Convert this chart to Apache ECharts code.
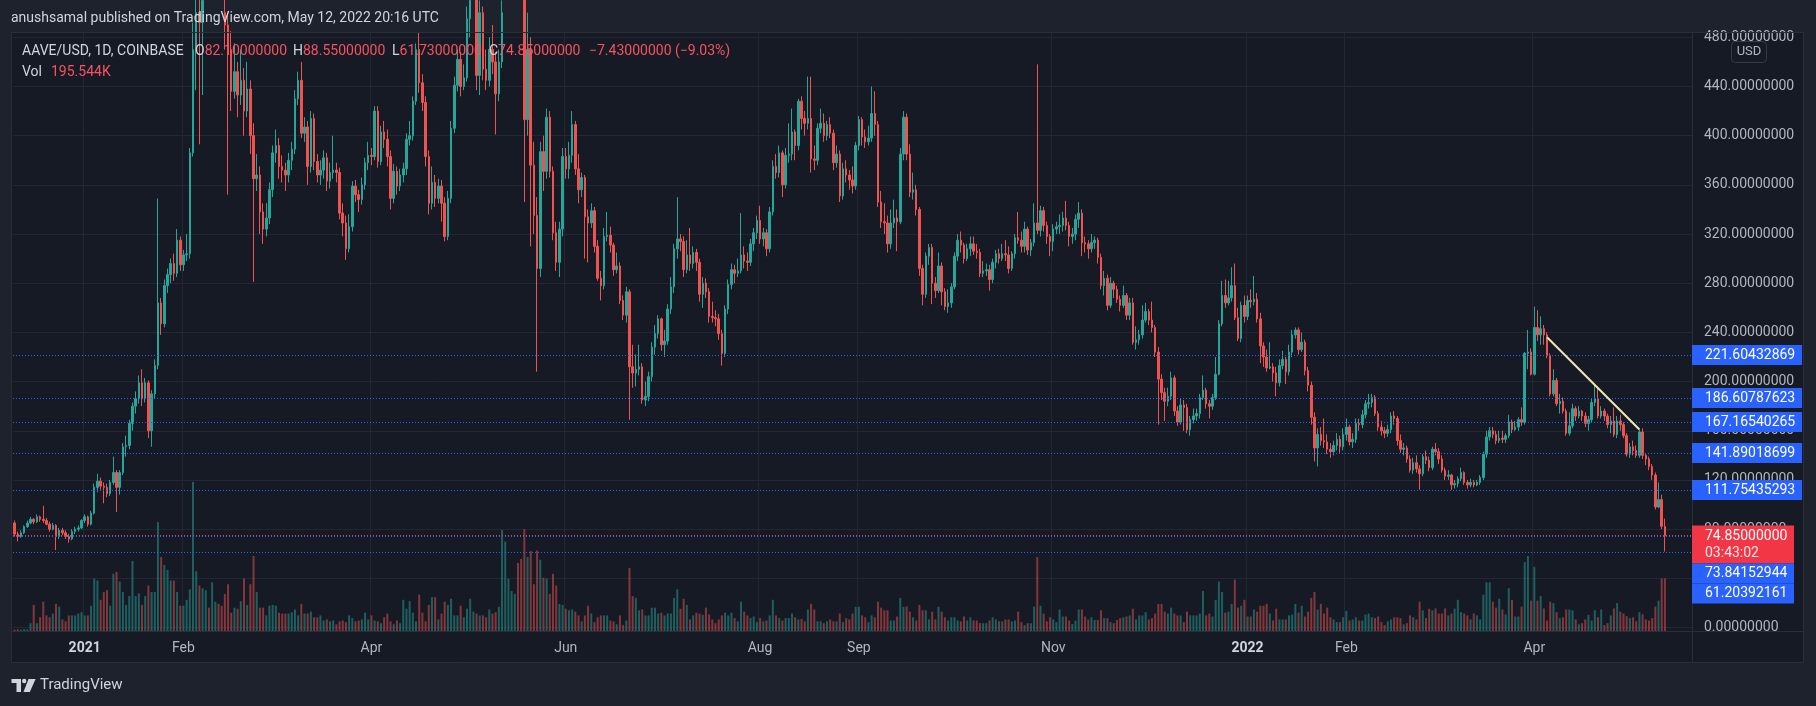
<!DOCTYPE html>
<html><head><meta charset="utf-8">
<script src="https://cdn.jsdelivr.net/npm/echarts@6/dist/echarts.min.js"></script>
<style>html,body{margin:0;padding:0;background:#1e222d;}#c{width:1816px;height:706px;}</style>
</head><body><div id="c"></div>
<script>
// ---------- data ----------
const startDate = [2020, 11, 10];   // first candle: 2020-12-10 (daily)
const slotCount = 527;              // category slots shown on the time axis

const open = [
85,76,74,77,82,85,88,86,90,88, 87,84,80,83,74,79,77,74,72,78, 80,81,87,90,84,93,114,119,115,114,
109,118,126,114,126,147,148,166,180,186, 199,186,199,160,190,213,264,247,278,287, 296,288,315,295,303,304,386,470,500,492,
510,530,505,520,540,525,500,490,470,436, 452,433,445,420,438,400,365,368,338,324, 333,356,386,392,375,372,368,380,389,430,
445,402,407,375,414,379,368,372,382,363, 370,372,370,337,329,308,326,359,352,348, 360,378,384,383,420,379,403,397,383,349,
371,359,368,373,397,400,428,470,443,427, 383,345,362,349,359,345,318,349,406,441, 462,440,447,495,510,530,449,500,454,445,
470,460,434,460,500,540,580,610,630,600, 570,413,470,376,335,292,387,371,415,371, 321,297,324,383,373,384,409,373,356,366,
334,329,339,310,284,278,318,319,311,291, 294,266,254,273,212,207,210,212,185,188, 204,228,239,251,230,233,259,277,308,316,
314,291,303,296,305,297,271,280,273,253, 252,251,239,223,259,279,291,288,290,303, 298,297,312,321,331,316,321,308,338,375,
370,386,360,384,385,403,392,428,414,410, 414,381,380,406,410,400,409,402,378,385, 351,373,368,364,359,392,413,399,395,398,
418,409,346,330,329,312,329,333,330,385, 415,385,354,356,340,292,271,302,309,280, 274,294,273,261,264,277,302,315,311,300,
308,312,306,305,288,290,291,283,297,304, 300,304,303,292,304,317,315,310,324,307, 313,329,323,339,327,318,314,324,326,327,
333,327,318,320,332,337,313,312,308,313, 315,301,278,284,262,280,275,267,262,270, 254,264,232,234,238,250,257,250,244,224,
202,191,184,188,203,176,167,181,179,161, 169,172,174,187,193,182,180,187,206,247, 270,264,268,278,252,235,262,253,266,265,
267,251,229,220,211,212,207,199,213,218, 208,224,238,242,226,232,209,197,171,146, 157,152,151,145,143,148,153,147,157,163,
151,153,166,165,173,182,183,187,174,163, 160,158,161,172,170,152,145,146,137,128, 134,129,125,139,136,130,145,143,137,128,
123,124,116,117,121,126,118,116,118,116, 118,122,141,155,160,157,152,154,153,156, 167,161,163,169,167,223,224,206,244,238,
243,238,221,190,201,182,184,176,158,164, 178,172,176,172,166,169,183,186,172,176, 172,165,168,157,168,165,156,141,147,144,
140,159,140,137,131,124,98,104,82.1];

const close = [
76,74,77,82,85,88,86,90,88,87, 84,80,83,74,79,77,74,72,78,80, 81,87,90,84,93,114,119,115,114,109,
118,126,114,126,147,148,166,180,186,199, 186,199,160,190,213,264,247,278,287,296, 288,315,295,303,304,386,470,500,492,510,
530,505,520,540,525,500,490,470,436,452, 433,445,420,438,400,365,368,338,324,333, 356,386,392,375,372,368,380,389,430,445,
402,407,375,414,379,368,372,382,363,370, 372,370,337,329,308,326,359,352,348,360, 378,384,383,420,379,403,397,383,349,371,
359,368,373,397,400,428,470,443,427,383, 345,362,349,359,345,318,349,406,441,462, 440,447,495,510,530,449,500,454,445,470,
460,434,460,500,540,580,610,630,600,570, 413,470,376,335,292,387,371,415,371,321, 297,324,383,373,384,409,373,356,366,334,
329,339,310,284,278,318,319,311,291,294, 266,254,273,212,207,210,212,185,188,204, 228,239,251,230,233,259,277,308,316,314,
291,303,296,305,297,271,280,273,253,252, 251,239,223,259,279,291,288,290,303,298, 297,312,321,331,316,321,308,338,375,370,
386,360,384,385,403,392,428,414,410,414, 381,380,406,410,400,409,402,378,385,351, 373,368,364,359,392,413,399,395,398,418,
409,346,330,329,312,329,333,330,385,415, 385,354,356,340,292,271,302,309,280,274, 294,273,261,264,277,302,315,311,300,308,
312,306,305,288,290,291,283,297,304,300, 304,303,292,304,317,315,310,324,307,313, 329,323,339,327,318,314,324,326,327,333,
327,318,320,332,337,313,312,308,313,315, 301,278,284,262,280,275,267,262,270,254, 264,232,234,238,250,257,250,244,224,202,
191,184,188,203,176,167,181,179,161,169, 172,174,187,193,182,180,187,206,247,270, 264,268,278,252,235,262,253,266,265,267,
251,229,220,211,212,207,199,213,218,208, 224,238,242,226,232,209,197,171,146,157, 152,151,145,143,148,153,147,157,163,151,
153,166,165,173,182,183,187,174,163,160, 158,161,172,170,152,145,146,137,128,134, 129,125,139,136,130,145,143,137,128,123,
124,116,117,121,126,118,116,118,116,118, 122,141,155,160,157,152,154,153,156,167, 161,163,169,167,223,224,206,244,238,243,
238,221,190,201,182,184,176,158,164,178, 172,176,172,166,169,183,186,172,176,172, 165,168,157,168,165,156,141,147,144,140,
159,140,137,131,124,98,104,82.28,74.85];

const high = [
87,78,79,83,87,90,89,92,91,99, 89,86,85,84,81,81,79,76,80,82, 83,88,92,91,95,117,125,122,118,117,
120,139,128,128,150,156,169,183,192,205, 210,203,201,193,218,349,268,283,292,300, 304,324,318,307,320,390,492,530,525,540,
560,545,540,570,560,535,515,500,485,475, 460,470,455,460,445,410,385,375,345,345, 362,392,405,398,384,378,386,395,437,452,
460,415,412,420,418,385,380,388,386,378, 400,378,374,345,335,336,363,364,356,366, 382,395,390,424,424,408,412,405,388,377,
375,373,378,402,412,432,475,484,450,432, 388,375,368,365,364,350,355,412,448,470, 468,458,505,525,545,535,510,505,470,480,
490,468,470,510,560,600,630,660,640,610, 580,500,480,395,350,395,400,422,420,375, 330,330,390,390,395,420,412,385,370,368,
340,345,342,315,290,325,338,326,313,305, 297,270,277,275,230,222,230,215,200,208, 232,246,254,252,242,263,285,312,350,320,
318,315,325,310,308,300,285,284,276,265, 258,255,242,262,283,296,295,300,337,310, 305,316,325,335,343,325,324,342,380,385,
392,388,390,410,422,405,430,432,420,448, 448,392,410,422,418,412,415,405,392,388, 378,380,372,375,395,416,415,405,408,440,
436,412,355,345,335,340,348,340,390,420, 418,393,370,360,342,295,305,312,312,285, 305,297,276,275,280,305,320,322,313,312,
318,318,312,308,298,296,295,300,307,308, 312,315,310,306,320,338,322,330,326,316, 345,458,343,342,330,320,328,330,336,338,
347,330,325,336,346,340,318,315,320,318, 317,304,290,287,285,282,278,270,278,272, 268,268,245,242,262,264,259,265,246,228,
206,195,195,208,205,180,186,185,182,172, 178,178,190,205,195,185,190,220,250,282, 283,282,293,296,260,265,270,270,275,286,
272,256,232,226,232,215,212,218,225,220, 230,242,244,244,240,234,212,200,175,162, 163,170,157,150,152,158,156,162,170,165,
158,170,170,177,185,190,190,189,176,168, 163,165,175,176,172,157,150,148,140,138, 140,132,141,144,139,147,150,146,140,130,
128,125,120,123,130,127,120,121,120,120, 124,143,160,163,163,160,160,160,158,173, 169,168,171,179,224,242,227,261,258,253,
246,240,223,210,203,190,187,178,175,182, 180,180,177,175,172,186,198,196,180,178, 174,172,179,172,173,167,158,150,152,148,
161,162,142,139,133,126,118,108,88.55];

const low = [
74,70,73,76,81,84,84,85,86,85, 83,78,79,63,72,75,72,69,71,76, 78,80,85,82,83,92,110,112,101,106,
107,116,94,108,124,139,145,160,174,182, 180,183,154,147,186,210,238,244,272,280, 282,285,290,290,298,300,383,437,393,433,
495,490,495,510,500,485,470,352,420,430, 415,425,400,415,385,281,355,320,312,318, 328,350,378,365,362,355,362,372,385,425,
398,395,360,370,372,362,360,365,355,357, 365,362,332,318,299,305,322,346,338,344, 356,372,376,380,374,376,390,375,340,345,
352,355,362,368,392,396,425,435,420,375, 336,340,342,345,330,314,315,345,402,436, 432,437,444,480,500,437,433,445,437,440,
450,401,428,455,490,530,570,600,585,540, 346,400,310,320,208,285,355,365,366,315, 290,285,318,365,365,378,368,345,350,300,
297,325,305,282,266,275,314,305,286,288, 263,250,248,169,195,196,205,182,180,184, 200,222,235,225,220,230,255,272,300,306,
285,288,290,292,290,265,260,268,248,248, 245,234,213,220,255,275,280,285,288,292, 290,294,306,316,312,310,302,305,335,365,
366,350,357,378,380,380,388,405,400,405, 370,372,376,402,395,396,398,372,374,346, 348,362,356,353,356,388,392,390,392,395,
400,342,325,320,305,308,325,306,328,380, 380,350,348,335,286,262,268,295,263,268, 272,262,258,256,260,275,298,305,296,298,
302,303,300,285,285,286,274,280,292,296, 298,298,288,290,300,312,305,305,303,302, 310,320,318,322,312,302,306,320,320,322,
323,310,312,315,325,302,305,300,305,308, 296,275,270,258,260,268,264,257,260,250, 250,230,226,230,235,248,246,240,220,165,
185,168,180,185,172,164,165,160,158,156, 166,168,170,185,178,170,177,185,205,245, 260,262,265,250,233,232,248,250,260,262,
248,215,212,208,210,200,188,196,210,198, 205,220,235,222,224,205,192,165,135,131, 148,146,141,138,140,144,142,144,152,148,
146,150,160,162,170,178,179,172,160,156, 154,155,158,165,148,142,140,134,126,125, 126,112,123,133,127,128,140,133,126,120,
120,112,113,114,119,116,113,114,114,115, 116,120,138,152,154,149,150,150,150,154, 158,160,160,164,165,210,205,205,233,230,
230,219,188,188,180,174,174,156,156,162, 168,170,168,163,160,167,180,170,170,168, 162,158,155,154,160,154,139,138,140,138,
138,137,132,128,120,96,97,80,61.73];

// volume in thousands (K)
const volume = [
5,6,5,7,6,29,97,29,51,109, 58,51,65,101,91,43,36,58,58,58, 65,70,58,58,94,195,188,116,145,152,
94,213,220,184,145,97,130,261,130,140, 97,130,169,145,145,405,275,246,227,188, 188,145,94,94,116,155,555,222,169,159,
152,87,181,109,101,94,138,174,68,87, 83,111,195,97,174,279,145,87,87,58, 94,97,94,68,65,65,65,70,
80,58,101,65,65,72,51,51,58,39, 43,36,39,25,36,39,33,58,48,36, 39,43,68,43,58,39,36,29,51,65,
36,25,39,29,116,83,111,68,36,135, 68,36,97,126,126,43,65,109,97,120, 58,58,94,51,83,120,72,65,58,58, 51,80,65,70,90,
376,333,195,149,138,253,268,379,275,297, 174,300,265,198,195,138,213,169,101,97, 83,77,80,
72,58,36,58,94,65,33,51,58,58, 58,39,36,25,58,22,39,235,130,123, 77,80,58,58,87,87,65,68,58,65,
65,123,155,83,120,97,43,58,68,65, 60, 87,62,43,29,43,58,68,58,68,48, 36,109,72,58,48,54,33,48,36,39,
58,116,58,48,39,48,48,65,51,43, 45, 36,80,101,80,36,36,29,36,43,36, 36,65,33,48,43,
65,90,90,58,51,33,58,51,109,87, 77,77,39,39,54,123,90,91,72,51, 39,97,77,77,43,72,43,90,72,51,
39,51,51,39,36,54,39,51,39,39, 29,29,29,39,51,43,36,36,43,43, 36,39,72,33,22,29,29,91,275,94,
65,36,51,43,33,80,54,54,39,26, 39,80,80,54,43,51,41,41,77,48, 48,33,29,41,48,51,54,58,
83,43,58,58,70,43,48,65,101,101, 72,65,87,65,58,58,33,72,58,58, 58,65,149,58,65,54,116,184,145,68,
72,101,191,87,94,116,54,54,80,72, 94,94,101,65,39,83,43,43,43,58, 61,101,68,94,54,72,123,145,80,101,
65,87,51,43,33,33,51,75,39,43, 51,39,39,61,65,51,48,54,33,22, 36,43,51,51,48,25,29,58,
51,43,109,77,48,83,77,84,65,65, 84,58,65,83,116,70,65,58,43,65, 58,43,135,181,181,109,87,120,80,62,
159,116,54,54,91,256,279,113,239,113, 130,84,39,109,104,70,48,51,80,80, 77,43,25,29,43,60,39,77,51,80,
22,29,58,84,104,72,65,55,48,51, 36,70,62,43,39,48,91,113,195,195.544];

// time-axis tick labels
const xTickDates = ['2021-01-01','2021-02-01','2021-04-01','2021-06-01','2021-08-01','2021-09-01','2021-11-01','2022-01-01','2022-02-01','2022-04-01'];
const xTickTexts = ['2021','Feb','Apr','Jun','Aug','Sep','Nov','2022','Feb','Apr'];
const xTickYear  = [true,false,false,false,false,false,false,true,false,false];
// price-axis tick labels
const yTicks = [0,40,80,120,160,200,240,280,320,360,400,440,480];
// horizontal level lines (blue) and last price (red)
const levels = [221.60432869,186.60787623,167.16540265,141.89018699,111.75435293,73.84152944,61.20392161];
const lastPrice = 74.85;
const countdown = '03:43:02';
// drawn trend line
const trendLine = [['2022-04-05', 236], ['2022-05-04', 161]];

// ---------- build ----------
const categories = [];
const t0 = Date.UTC(startDate[0], startDate[1], startDate[2]);
for (let i = 0; i < slotCount; i++) categories.push(new Date(t0 + i * 86400000).toISOString().slice(0, 10));
const tickMap = new Map();
xTickDates.forEach((d, i) => tickMap.set(d, {text: xTickTexts[i], year: xTickYear[i]}));

const ohlc = open.map((o, i) => [o, close[i], low[i], high[i]]);
const volData = volume.map((v, i) => ({value: v, itemStyle: {color: close[i] >= open[i] ? 'rgba(38,166,154,0.5)' : 'rgba(239,83,80,0.5)'}}));

const FONT = 'Roboto, "Noto Sans", sans-serif';
const PANE_BG = '#161a25', BORDER = '#2a2e39', GRIDC = '#232733';
const GL = 13, GR = 124, GT = 32, GB = 75;
const Y_MIN = -2.846, Y_MAX = 484.3;

const chart = echarts.init(document.getElementById('c'), null, {renderer: 'canvas'});
chart.setOption({
  backgroundColor: '#1e222d',
  animation: false,
  textStyle: {fontFamily: FONT},
  grid: [
    {left: GL, right: GR, top: GT, bottom: GB},
    {left: GL, right: GR, top: 416, bottom: GB}
  ],
  xAxis: [
    {type: 'category', gridIndex: 0, data: categories, boundaryGap: true,
     axisLine: {show: false}, axisTick: {show: false},
     axisLabel: {interval: (i, v) => tickMap.has(v), margin: 10, color: '#b2b5be', fontSize: 14, fontFamily: FONT,
       formatter: v => { const t = tickMap.get(v); return t ? (t.year ? '{y|' + t.text + '}' : t.text) : ''; },
       rich: {y: {fontWeight: 'bold', color: '#d1d4dc', fontSize: 14, fontFamily: FONT}}},
     splitLine: {show: true, interval: (i, v) => tickMap.has(v), lineStyle: {color: GRIDC, width: 1}}},
    {type: 'category', gridIndex: 1, data: categories, boundaryGap: true, show: false}
  ],
  yAxis: [
    {type: 'value', gridIndex: 0, position: 'right', min: Y_MIN, max: Y_MAX,
     axisLine: {show: false}, axisTick: {show: false, customValues: yTicks},
     axisLabel: {customValues: yTicks, formatter: v => v.toFixed(8), color: '#b2b5be', fontSize: 14, fontFamily: FONT, margin: 12},
     splitLine: {show: true, lineStyle: {color: GRIDC, width: 1}}},
    {type: 'value', gridIndex: 1, min: 0, max: 800, show: false}
  ],
  series: [
    {type: 'bar', xAxisIndex: 1, yAxisIndex: 1, data: volData, barWidth: 2, z: 1, silent: true},
    {type: 'candlestick', xAxisIndex: 0, yAxisIndex: 0, data: ohlc, barWidth: 2, z: 3, silent: true,
     itemStyle: {color: '#26a69a', color0: '#ef5350', borderColor: '#26a69a', borderColor0: '#ef5350', borderWidth: 1},
     markLine: {silent: true, symbol: ['none', 'none'], label: {show: false}, animation: false,
       data: levels.map(v => ({yAxis: v, lineStyle: {color: '#2962ff', type: [1, 2], width: 1}}))
             .concat([{yAxis: lastPrice, lineStyle: {color: '#f23645', type: [1, 2], width: 1}}])}},
    {type: 'line', xAxisIndex: 0, yAxisIndex: 0, data: trendLine, symbol: 'none', z: 5, silent: true,
     lineStyle: {color: '#efe9b0', width: 2}}
  ]
});

// ---------- overlays ----------
const yp = v => chart.convertToPixel({yAxisIndex: 0}, v);
const g = [];
const txt = (x, y, text, fill, size, extra) => g.push(Object.assign({type: 'text', x, y, z: 70, silent: true,
  style: Object.assign({text, fill, fontSize: size || 14, fontFamily: FONT, verticalAlign: 'middle'}, (extra && extra.style) || {})}, extra && extra.el || {}));

g.push({type: 'rect', z: -10, silent: true, shape: {x: 11.5, y: 32.5, width: 1792, height: 630}, style: {fill: PANE_BG, stroke: BORDER, lineWidth: 1}});
g.push({type: 'rect', z: 40, silent: true, shape: {x: 1693, y: 632, width: 110.5, height: 30.5}, style: {fill: PANE_BG}});
g.push({type: 'line', z: 50, silent: true, shape: {x1: 11.5, y1: 631.5, x2: 1804, y2: 631.5}, style: {stroke: BORDER, lineWidth: 1}});
g.push({type: 'line', z: 50, silent: true, shape: {x1: 1692.5, y1: 32.5, x2: 1692.5, y2: 663}, style: {stroke: BORDER, lineWidth: 1}});
g.push({type: 'rect', z: 50, silent: true, shape: {x: 11.5, y: 32.5, width: 1792, height: 630}, style: {fill: 'none', stroke: BORDER, lineWidth: 1}});

// level labels on the price scale
for (let k = 0; k < 5; k++) {
  const y = yp(levels[k]);
  g.push({type: 'rect', z: 60, silent: true, shape: {x: 1692, y: y - 10, width: 110, height: 20}, style: {fill: '#2962ff'}});
  txt(1705, y + 0.5, levels[k].toFixed(8), '#ffffff', 14, {el: {z: 61}});
}
const yr = yp(lastPrice) - 10;
g.push({type: 'rect', z: 60, silent: true, shape: {x: 1692, y: yr, width: 102, height: 38}, style: {fill: '#f23645'}});
txt(1705, yr + 11, lastPrice.toFixed(8), '#ffffff', 14, {el: {z: 61}});
txt(1705, yr + 28, countdown, '#fde7e9', 14, {el: {z: 61}});
for (let k = 5; k < 7; k++) {
  const top = yr + 38 + (k - 5) * 20;
  g.push({type: 'rect', z: 60, silent: true, shape: {x: 1692, y: top, width: 102, height: 20}, style: {fill: '#2962ff'}});
  txt(1705, top + 10, levels[k].toFixed(8), '#ffffff', 14, {el: {z: 61}});
}
// USD badge
g.push({type: 'rect', z: 60, silent: true, shape: {x: 1731.5, y: 41.5, width: 35, height: 21, r: 4}, style: {fill: PANE_BG, stroke: '#363a45', lineWidth: 1}});
txt(1749, 52, 'USD', '#b2b5be', 13, {style: {align: 'center'}, el: {z: 61}});

// title and legend
txt(11, 18, 'anushsamal published on TradingView.com, May 12, 2022 20:16 UTC', '#d1d4dc', 14);
txt(22, 51, 'AAVE/USD, 1D, COINBASE', '#d1d4dc', 14);
const RED = '#f7525f', GREY = '#d1d4dc';
const legend = [[195, 'O', '82.10000000'], [293, 'H', '88.55000000'], [392, 'L', '61.73000000'], [489, 'C', '74.85000000']];
legend.forEach(([x, l, v]) => g.push({type: 'text', x, y: 51, z: 70, silent: true,
  style: {text: '{l|' + l + '}{v|' + v + '}', fontSize: 14, fontFamily: FONT, verticalAlign: 'middle',
    rich: {l: {fill: GREY, fontSize: 14, fontFamily: FONT}, v: {fill: RED, fontSize: 14, fontFamily: FONT}}}}));
txt(589, 51, '\u22127.43000000 (\u22129.03%)', RED, 14);
txt(22, 72, 'Vol', GREY, 14);
txt(51, 72, '195.544K', RED, 14);

// footer logo
const LC = '#d1d4dc';
g.push({type: 'rect', z: 70, silent: true, shape: {x: 11.5, y: 679, width: 9.5, height: 4}, style: {fill: LC}});
g.push({type: 'rect', z: 70, silent: true, shape: {x: 16.5, y: 679, width: 4.5, height: 13}, style: {fill: LC}});
g.push({type: 'circle', z: 70, silent: true, shape: {cx: 24.2, cy: 681, r: 2.2}, style: {fill: LC}});
g.push({type: 'polygon', z: 70, silent: true, shape: {points: [[28.5, 679], [35.6, 679], [29.8, 692], [23.5, 692]]}, style: {fill: LC}});
txt(40, 685.5, 'TradingView', LC, 15);

chart.setOption({graphic: g});
</script>
</body></html>
